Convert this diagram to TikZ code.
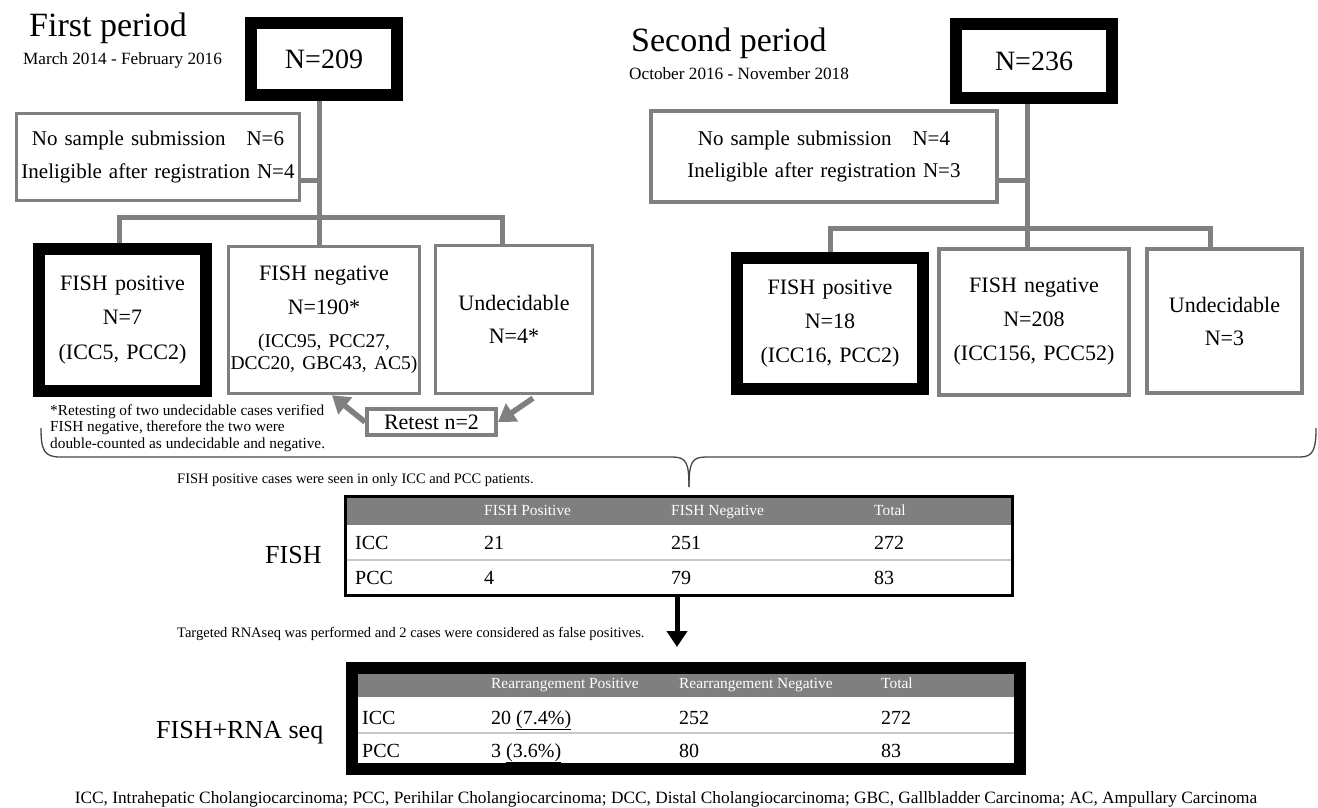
\documentclass[tikz,border=0pt]{standalone}
\usepackage{fontspec}
\setmainfont{Liberation Serif}
\usetikzlibrary{arrows.meta,calc}
\pgfdeclarelayer{bg}
\pgfsetlayers{bg,main}
\definecolor{lgray}{RGB}{128,128,128}
\definecolor{hdr}{RGB}{127,127,127}
\definecolor{sepc}{RGB}{200,200,200}
\definecolor{bracec}{RGB}{70,70,70}
\newcommand{\fs}[2]{\fontsize{#1}{#2}\selectfont}
\begin{document}
\begin{tikzpicture}[x=1pt,y=-1pt,
  graybox/.style={draw=lgray,line width=3.5pt,fill=white,inner sep=0pt,align=center},
  blackbox/.style={draw=black,line width=12pt,fill=white,inner sep=0pt,align=center},
  conn/.style={draw=lgray,line width=5pt},
  garrow/.style={draw=lgray,line width=5.5pt,-{Triangle[length=17pt,width=21pt]}},
  barrow/.style={draw=black,line width=5pt,-{Triangle[length=16pt,width=20pt]}},
  txt/.style={inner sep=0pt,anchor=base west},
  ctxt/.style={inner sep=0pt,anchor=base},
  hd/.style={txt,text=white,font=\fs{15.4}{18}},
  cell/.style={txt,font=\fs{20}{24}},
  sepline/.style={draw=sepc,line width=1.5pt},
  bracestyle/.style={draw=bracec,line width=1.3pt}
  ]
\begin{pgfonlayer}{bg}\fill[white] (0,0) rectangle (1318,808);\end{pgfonlayer}
\useasboundingbox (0,0) rectangle (1318,808);

% titles
\node[txt,font=\fs{34}{40}] (title1) at (29,37) {First period};
\node[txt,font=\fs{17.2}{20}] (date1) at (23,65) {March 2014 - February 2016};
\node[txt,font=\fs{34}{40}] (title2) at (631,52) {Second period};
\node[txt,font=\fs{17.2}{20}] (date2) at (629,80) {October 2016 - November 2018};

% first period boxes
\node[blackbox,minimum width=146pt,minimum height=72pt,font=\fs{28}{32}] (top1) at (324,59) {N=209};
\node[graybox,minimum width=283pt,minimum height=87pt,text width=283pt,font=\fs{21}{33}] (excl1) at (158,157) {No sample submission\hspace{21pt}N=6\\Ineligible after registration N=4};
\node[blackbox,minimum width=167pt,minimum height=142pt,text width=167pt,font=\fs{22}{34.5}] (pos1) at (122.5,320) {FISH positive\\N=7\\(ICC5, PCC2)};
\node[graybox,minimum width=191pt,minimum height=147pt,text width=191pt,font=\fs{22}{34}] (neg1) at (324,320) {FISH negative\\N=190*\\[-1pt]{\fs{19.5}{22}(ICC95, PCC27,}\\[-12pt]{\fs{19.5}{22}DCC20, GBC43, AC5)}};
\node[graybox,minimum width=157pt,minimum height=148pt,text width=157pt,font=\fs{22}{33}] (und1) at (514,319.5) {Undecidable\\N=4*};
\node[graybox,line width=4pt,minimum width=129pt,minimum height=26pt,font=\fs{22}{26}] (retest) at (431.5,422) {Retest n=2};

\coordinate (t1) at (319,217);
\coordinate (j1) at (319,180);
\begin{pgfonlayer}{bg}
\draw[conn] (top1.south -| t1) -- (neg1.north -| t1);
\draw[conn] (excl1.east |- j1) -- (j1);
\draw[conn] ([xshift=-3.5pt]pos1.north) |- (t1) -| ([xshift=-12pt]und1.north);
\end{pgfonlayer}

\draw[garrow] ([xshift=19pt,yshift=-3pt]und1.south) -- (retest.east);
\draw[garrow] (retest.west) -- ([xshift=8pt]neg1.south);

\node[txt,font=\fs{15.3}{16.5}] (foot) at (50,415) {\begin{tabular}[t]{@{}l@{}}*Retesting of two undecidable cases verified\\FISH negative, therefore the two were\\double-counted as undecidable and negative.\end{tabular}};

% second period boxes
\node[blackbox,minimum width=156pt,minimum height=74pt,font=\fs{28}{32}] (top2) at (1034,61) {N=236};
\node[graybox,minimum width=346pt,minimum height=91pt,text width=346pt,font=\fs{21}{32}] (excl2) at (824,156.5) {No sample submission\hspace{21pt}N=4\\Ineligible after registration N=3};
\node[blackbox,minimum width=186pt,minimum height=131pt,text width=186pt,font=\fs{22}{34}] (pos2) at (830,323.5) {FISH positive\\N=18\\(ICC16, PCC2)};
\node[graybox,minimum width=190pt,minimum height=146pt,text width=190pt,font=\fs{22}{34}] (neg2) at (1034,322) {FISH negative\\N=208\\(ICC156, PCC52)};
\node[graybox,minimum width=155pt,minimum height=144pt,text width=155pt,font=\fs{22}{33}] (und2) at (1224.5,321) {Undecidable\\N=3};

\coordinate (t2) at (1027,228);
\coordinate (j2) at (1027,180);
\begin{pgfonlayer}{bg}
\draw[conn] (top2.south -| t2) -- (neg2.north -| t2);
\draw[conn] (excl2.east |- j2) -- (j2);
\draw[conn] (pos2.north) |- (t2) -| ([xshift=-14.5pt]und2.north);
\end{pgfonlayer}

% brace
\draw[bracestyle] (41,428) .. controls (41,450) and (44,457) .. (60,457) -- (672,457) .. controls (686,457) and (689,462) .. (689,487);
\draw[bracestyle] (689,487) .. controls (689,462) and (692,457) .. (706,457) -- (1300,457) .. controls (1313,457) and (1316,450) .. (1316,428);

% notes
\node[txt,font=\fs{14.5}{17}] (note1) at (177,483) {FISH positive cases were seen in only ICC and PCC patients.};
\node[txt,font=\fs{14.5}{17}] (note2) at (177,637) {Targeted RNAseq was performed and 2 cases were considered as false positives.};

% FISH table
\node[draw=black,line width=3pt,minimum width=667pt,minimum height=99pt,inner sep=0pt] (ftab) at (679,546) {};
\coordinate (fh) at (0,525);
\coordinate (fs) at (0,560);
\begin{pgfonlayer}{bg}
\fill[hdr] (ftab.north west) rectangle (ftab.east |- fh);
\draw[sepline] (ftab.west |- fs) -- (ftab.east |- fs);
\end{pgfonlayer}
\node[hd] (fc1) at (484,515) {FISH Positive};
\node[hd] (fc2) at (671,515) {FISH Negative};
\node[hd] (fc3) at (874,515) {Total};
\node[cell] (f1a) at (355,549) {ICC};
\node[cell] (f1b) at (484,549) {21};
\node[cell] (f1c) at (671,549) {251};
\node[cell] (f1d) at (874,549) {272};
\node[cell] (f2a) at (355,584) {PCC};
\node[cell] (f2b) at (484,584) {4};
\node[cell] (f2c) at (671,584) {79};
\node[cell] (f2d) at (874,584) {83};
\node[txt,font=\fs{26}{30}] (flab) at (265,563) {FISH};

% RNA table
\node[draw=black,line width=12pt,minimum width=668pt,minimum height=101pt,inner sep=0pt] (rtab) at (686,718.5) {};
\coordinate (rh) at (0,697);
\coordinate (rs) at (0,733);
\begin{pgfonlayer}{bg}
\fill[hdr] (rtab.north west) rectangle (rtab.east |- rh);
\draw[sepline] (rtab.west |- rs) -- (rtab.east |- rs);
\end{pgfonlayer}
\node[hd] (rc1) at (491,688) {Rearrangement Positive};
\node[hd] (rc2) at (679,688) {Rearrangement Negative};
\node[hd] (rc3) at (881,688) {Total};
\node[cell] (r1a) at (362,724) {ICC};
\node[cell] (r1b) at (491,724) {20 \underline{(7.4\%)}};
\node[cell] (r1c) at (679,724) {252};
\node[cell] (r1d) at (881,724) {272};
\node[cell] (r2a) at (362,757) {PCC};
\node[cell] (r2b) at (491,757) {3 \underline{(3.6\%)}};
\node[cell] (r2c) at (679,757) {80};
\node[cell] (r2d) at (881,757) {83};
\node[txt,font=\fs{26}{30}] (rlab) at (156,738) {FISH+RNA seq};

\coordinate (ax) at (677,600);
\draw[barrow,shorten >=15pt] (ftab.south -| ax) -- (rtab.north -| ax);

\node[ctxt,font=\fs{17.3}{20}] (caption) at (666,803) {ICC, Intrahepatic Cholangiocarcinoma; PCC, Perihilar Cholangiocarcinoma; DCC, Distal Cholangiocarcinoma; GBC, Gallbladder Carcinoma; AC, Ampullary Carcinoma};
\end{tikzpicture}
\end{document}
